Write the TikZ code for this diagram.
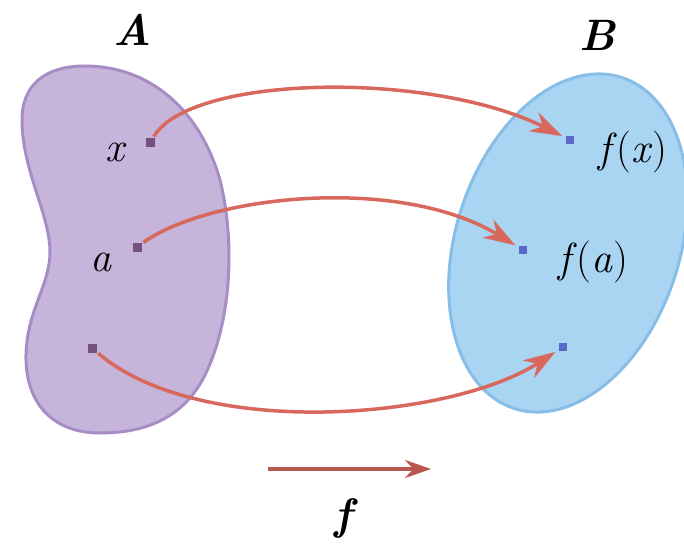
\documentclass[tikz,border=0pt]{standalone}
\usepackage{fontspec}
\usepackage{xcolor}
\usetikzlibrary{arrows.meta}

\definecolor{setApurple}{HTML}{C7B4DA}
\definecolor{setAedge}{HTML}{A88CC6}
\definecolor{setBblue}{HTML}{A9D4F2}
\definecolor{setBedge}{HTML}{86BEE8}
\definecolor{mapred}{HTML}{D8675C}
\definecolor{dotpurple}{HTML}{76507E}
\definecolor{dotblue}{HTML}{5A68C6}

\tikzset{
  dotA/.style={rectangle, fill=dotpurple, inner sep=0pt, minimum size=9pt},
  dotB/.style={rectangle, fill=dotblue, inner sep=0pt, minimum size=8pt},
  elemlabel/.style={font=\fontsize{42}{48}\selectfont, inner sep=0pt},
  setlabel/.style={font=\fontsize{44}{50}\selectfont\bfseries\itshape, inner sep=0pt},
  maparrow/.style={->, draw=mapred, line width=3.5pt, shorten >=4pt, shorten <=2pt}
}

\begin{document}
\begin{tikzpicture}[x=1pt, y=-1pt, >={Stealth[length=32pt,width=21pt]}]
		
		\useasboundingbox (0,0) rectangle (684,548);
		
		% set A (kidney)
		\filldraw[fill=setApurple, draw=setAedge, line width=3pt]
		  (85,66) .. controls (150,66) and (200,110) .. (220,180)
		  .. controls (235,240) and (232,320) .. (205,375)
		  .. controls (185,415) and (150,433) .. (100,433)
		  .. controls (50,433) and (25,400) .. (26,355)
		  .. controls (27,310) and (50,285) .. (50,252)
		  .. controls (50,215) and (22,170) .. (22,120)
		  .. controls (22,85) and (45,66) .. (85,66) -- cycle;
		
		% set B (oval)
		\filldraw[fill=setBblue, draw=setBedge, line width=3pt, rotate around={-18:(568,243)}]
		  (568,243) ellipse [x radius=112pt, y radius=174pt];
		
		% set names
		\node[setlabel] (A) at (133,30) {A};
		\node[setlabel] (B) at (597,35) {B};
		
		% points in A
		\node[dotA] (x) at (150,143) {};
		\node[dotA] (a) at (137,247) {};
		\node[dotA] (p) at (92,348) {};
		\node[elemlabel] at (115,152) {\itshape x};
		\node[elemlabel] at (101,262) {\itshape a};
		
		% points in B
		\node[dotB] (fx) at (570,140) {};
		\node[dotB] (fa) at (523,250) {};
		\node[dotB] (fp) at (563,347) {};
		\node[elemlabel] at (633,152) {\textit{f}(\textit{x})};
		\node[elemlabel] at (593,262) {\textit{f}(\textit{a})};
		
		% the mapping
		\draw[maparrow] (x) .. controls (190,75) and (430,70) .. (fx);
		\draw[maparrow] (a) .. controls (210,195) and (400,175) .. (fa);
		\draw[maparrow] (p) .. controls (200,440) and (450,420) .. (fp);
		
		% f below
		\coordinate (fstart) at (268,469);
		\coordinate (fend) at (431,469);
		\draw[->, draw=mapred!85!black, line width=3.5pt, >={Stealth[length=26pt,width=18pt]}] (fstart) -- (fend);
		\node[setlabel] (f) at (343,518) {f};
		
	\end{tikzpicture}
\end{document}
